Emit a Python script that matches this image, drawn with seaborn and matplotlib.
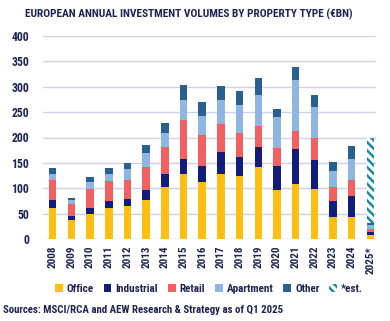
import matplotlib
matplotlib.use("Agg")
import matplotlib.pyplot as plt
from matplotlib import font_manager as fm
from matplotlib.patches import Patch
import seaborn as sns
import numpy as np

years = ["2008", "2009", "2010", "2011", "2012", "2013", "2014", "2015", "2016",
         "2017", "2018", "2019", "2020", "2021", "2022", "2023", "2024", "2025*"]
office = [62, 37, 49, 62, 66, 77, 103, 128, 112, 128, 124, 142, 97, 108, 99, 43, 43, 8]
industrial = [15, 9, 12, 13, 13, 20, 25, 30, 32, 44, 38, 40, 47, 70, 57, 32, 42, 6]
retail = [39, 23, 38, 39, 38, 44, 54, 77, 61, 55, 47, 41, 36, 35, 43, 28, 31, 6]
apartment = [12, 8, 13, 14, 21, 29, 27, 39, 38, 47, 56, 61, 61, 101, 62, 31, 42, 8]
other = [12, 4, 10, 12, 12, 15, 20, 30, 27, 28, 27, 34, 16, 24, 23, 18, 26, 4]
estimate = [0] * 17 + [168]

series = ["Office", "Industrial", "Retail", "Apartment", "Other"]
colors = ["#FFBE12", "#111C7C", "#F26161", "#8FB5E2", "#28608F"]
est_color = "#1A8B9B"
text_color = "#1C2452"
grid_color = "#CDD1EE"

sns.set_theme(style="white")

# pick a narrow face if one is installed, otherwise a compact sans
names = {f.name for f in fm.fontManager.ttflist}
stretch_by_name = {}
for f in fm.fontManager.ttflist:
    stretch_by_name.setdefault(f.name, set()).add(str(f.stretch))
narrow = None
for cand in ["Liberation Sans Narrow", "Roboto Condensed", "Open Sans Condensed",
             "DejaVu Sans Condensed", "Noto Sans Condensed"]:
    if cand in names:
        narrow = (cand, "normal")
        break
if narrow is None:
    for fam in ["DejaVu Sans", "Noto Sans", "Open Sans", "Roboto"]:
        st = stretch_by_name.get(fam, set())
        if "condensed" in st or "semi-condensed" in st:
            narrow = (fam, "condensed" if "condensed" in st else "semi-condensed")
            break
if narrow is None:
    narrow = ("Liberation Sans", "normal")
family, stretch = narrow
plt.rcParams["font.family"] = [family, "DejaVu Sans"]
plt.rcParams["font.stretch"] = stretch
plt.rcParams["hatch.linewidth"] = 1.8

fig = plt.figure(figsize=(3.9, 3.21), dpi=100)
ax = fig.add_axes([43 / 390, 1 - 239 / 321, 333 / 390, 203 / 321])

bottom = np.zeros(len(years))
for name, vals, col in zip(series, [office, industrial, retail, apartment, other], colors):
    sns.barplot(x=years, y=vals, bottom=bottom, color=col, width=0.4,
                saturation=1, ax=ax, linewidth=0, zorder=3)
    bottom = bottom + np.array(vals)

sns.barplot(x=years, y=estimate, bottom=bottom, color="white", width=0.4,
            saturation=1, ax=ax, linewidth=0, zorder=3)
est_patch = ax.patches[-1]
est_patch.set_hatch("\\\\\\\\")
est_patch.set_edgecolor(est_color)

ax.set_xlim(-0.52, 17.3)
ax.set_ylim(0, 400)
ax.set_yticks(range(0, 401, 50))
ax.yaxis.grid(True, color=grid_color, linewidth=1.0, zorder=0)
ax.set_axisbelow(True)
for s in ax.spines.values():
    s.set_visible(False)
ax.set_xlabel("")
ax.set_ylabel("")
ax.tick_params(axis="y", length=0, pad=10, labelsize=8.5, labelcolor=text_color)
ax.tick_params(axis="x", length=0, pad=5, labelsize=8, labelcolor=text_color)
for lab in ax.get_xticklabels():
    lab.set_rotation(90)
    lab.set_fontweight("bold")
for lab in ax.get_yticklabels():
    lab.set_fontweight("bold")

fig.text(25 / 390, 1 - 14 / 321,
         "EUROPEAN ANNUAL INVESTMENT VOLUMES BY PROPERTY TYPE (€BN)",
         fontsize=8.2, fontweight="bold", color=text_color, va="center", ha="left")

handles = [Patch(facecolor=c, edgecolor="none", label=n) for n, c in zip(series, colors)]
handles.append(Patch(facecolor="white", edgecolor=est_color, hatch="\\\\\\\\",
                     linewidth=0, label="*est."))
leg = fig.legend(handles=handles, loc="center", bbox_to_anchor=(209 / 390, 1 - 289 / 321),
                 ncol=6, frameon=False, handlelength=0.7, handleheight=0.7,
                 handletextpad=0.35, columnspacing=0.9, fontsize=8)
for t in leg.get_texts():
    t.set_color(text_color)
    t.set_fontweight("bold")

fig.text(3 / 390, 1 - 310 / 321,
         "Sources: MSCI/RCA and AEW Research & Strategy as of Q1 2025",
         fontsize=7.8, fontweight="bold", color=text_color, va="center", ha="left")

fig.savefig("out.png", dpi=100)
